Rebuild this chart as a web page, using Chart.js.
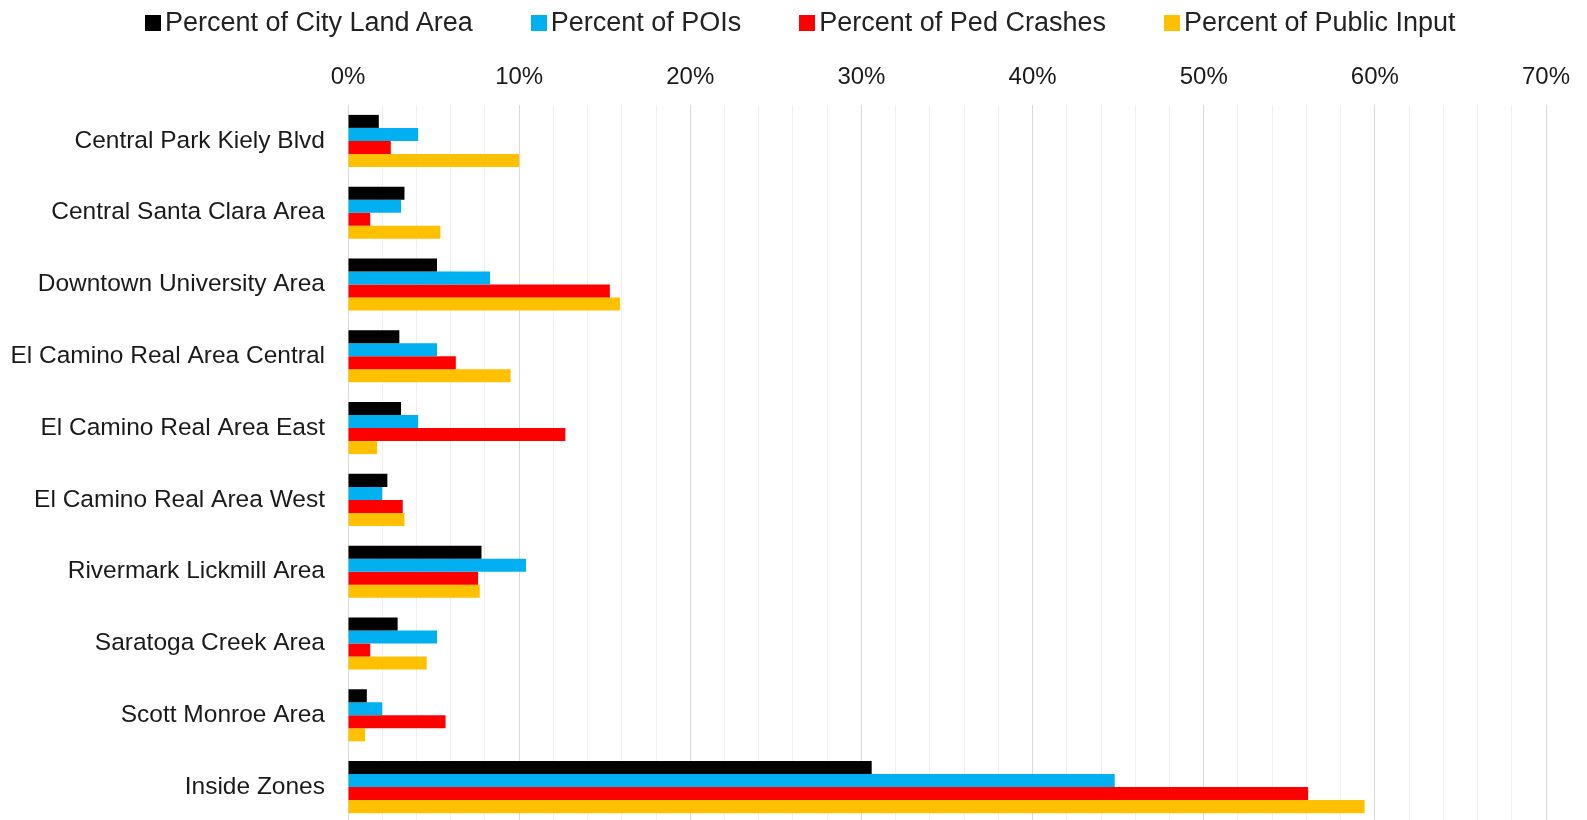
<!DOCTYPE html>
<html>
<head>
<meta charset="utf-8">
<script src="https://cdn.jsdelivr.net/npm/chart.js@4"></script>
<style>
  html, body { margin: 0; padding: 0; background: #fff; overflow: hidden; }
  #wrap { position: relative; width: 1587px; height: 823px; }
  #legend {
    position: absolute; left: 145px; top: 9px;
    display: flex; align-items: center; gap: 58px;
    font-family: "Liberation Sans", Arial, sans-serif; font-size: 27px; line-height: 27px; color: #222;
  }
  #legend .item { display: flex; align-items: center; white-space: nowrap; }
  #legend .box { width: 16px; height: 16px; margin-right: 4px; }
</style>
</head>
<body>
<div id="wrap">
  <canvas id="chart" width="1587" height="823"></canvas>
  <div id="legend"></div>
</div>
<script>
const categories = [
  'Central Park Kiely Blvd',
  'Central Santa Clara Area',
  'Downtown University Area',
  'El Camino Real Area Central',
  'El Camino Real Area East',
  'El Camino Real Area West',
  'Rivermark Lickmill Area',
  'Saratoga Creek Area',
  'Scott Monroe Area',
  'Inside Zones'
];
const landArea = [1.8, 3.3, 5.2, 3.0, 3.1, 2.3, 7.8, 2.9, 1.1, 30.6];
const pois = [4.1, 3.1, 8.3, 5.2, 4.1, 2.0, 10.4, 5.2, 2.0, 44.8];
const pedCrashes = [2.5, 1.3, 15.3, 6.3, 12.7, 3.2, 7.6, 1.3, 5.7, 56.1];
const publicInput = [10.0, 5.4, 15.9, 9.5, 1.7, 3.3, 7.7, 4.6, 1.0, 59.4];

const fontFamily = '"Liberation Sans", Arial, sans-serif';

const datasets = [
  { label: 'Percent of City Land Area', data: landArea, backgroundColor: '#000000' },
  { label: 'Percent of POIs', data: pois, backgroundColor: '#00b0f0' },
  { label: 'Percent of Ped Crashes', data: pedCrashes, backgroundColor: '#ff0000' },
  { label: 'Percent of Public Input', data: publicInput, backgroundColor: '#ffc000' }
];
datasets.forEach(d => {
  d.barPercentage = 1;
  d.categoryPercentage = 0.725;
  d.borderWidth = 0;
});

const chart = new Chart(document.getElementById('chart').getContext('2d'), {
  type: 'bar',
  data: { labels: categories, datasets: datasets },
  options: {
    indexAxis: 'y',
    responsive: false,
    animation: false,
    layout: { padding: { left: 0, right: 41, top: 0, bottom: 0 } },
    plugins: {
      legend: { display: false },
      tooltip: { enabled: false }
    },
    scales: {
      x: {
        position: 'top',
        min: 0,
        max: 70,
        border: { display: false },
        grid: {
          drawTicks: false,
          color: ctx => (ctx.tick && ctx.tick.value % 10 === 0) ? '#d9d9d9' : '#efefef',
          lineWidth: 1
        },
        ticks: {
          stepSize: 2,
          autoSkip: false,
          maxRotation: 0,
          padding: 13,
          color: '#1a1a1a',
          font: { family: fontFamily, size: 24 },
          callback: v => (v % 10 === 0 ? v + '%' : '')
        },
        afterFit: scale => { scale.height = 105; }
      },
      y: {
        border: { display: false },
        grid: { display: false, drawTicks: false },
        ticks: {
          padding: 23,
          color: '#1a1a1a',
          font: { family: fontFamily, size: 24.5 }
        },
        afterFit: scale => {
          scale.width = 348;
          scale.paddingTop = 0;
          scale.paddingBottom = 0;
        }
      }
    }
  }
});

// legend built from the chart's datasets
const legendEl = document.getElementById('legend');
chart.data.datasets.forEach(ds => {
  const item = document.createElement('div');
  item.className = 'item';
  item.innerHTML = `<span class="box" style="background:${ds.backgroundColor}"></span><span>${ds.label}</span>`;
  legendEl.appendChild(item);
});
</script>
</body>
</html>
